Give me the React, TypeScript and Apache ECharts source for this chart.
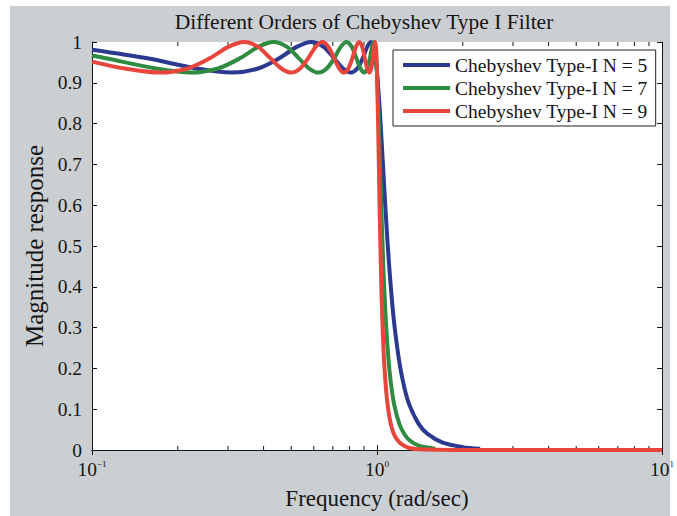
import React, { useEffect, useRef } from 'react';
import * as echarts from 'echarts';

const TITLE = 'Different Orders of Chebyshev Type I Filter';
const X_NAME = 'Frequency (rad/sec)';
const Y_NAME = 'Magnitude response';
const SERIES_NAMES = ['Chebyshev Type-I N = 5', 'Chebyshev Type-I N = 7', 'Chebyshev Type-I N = 9'];
const SERIES_COLORS = ['#2b3990', '#2e8b40', '#e8453c'];
const X_MINOR_TICKS = [0.2, 0.3, 0.4, 0.5, 0.6, 0.7, 0.8, 0.9, 2, 3, 4, 5, 6, 7, 8, 9];

// N = 5
const FREQ_N5 = [
  0.1, 0.15643, 0.23345, 0.30902, 0.38268, 0.45399, 0.5225, 0.58779, 0.64945, 0.70711,
  0.76041, 0.80902, 0.85264, 0.89101, 0.92388, 0.95106, 0.97237, 0.98769, 0.99692, 1.0,
  1.01, 1.02, 1.03, 1.04, 1.05, 1.06, 1.08, 1.1, 1.12, 1.15, 1.2, 1.25, 1.3, 1.4, 1.5, 1.7, 2.0, 2.3,
];
const MAG_N5 = [
  0.981, 0.96, 0.935, 0.925, 0.935, 0.96, 0.988, 1.0, 0.988, 0.96,
  0.935, 0.925, 0.935, 0.96, 0.988, 1.0, 0.988, 0.96, 0.935, 0.925,
  0.888, 0.845, 0.797, 0.747, 0.695, 0.644, 0.548, 0.464, 0.393, 0.308, 0.212, 0.15, 0.11, 0.064, 0.04, 0.018, 0.007, 0.003,
];

// N = 7
const FREQ_N7 = [
  0.1, 0.112, 0.16745, 0.22252, 0.27676, 0.33028, 0.38268, 0.43388, 0.4834, 0.53203,
  0.57848, 0.62349, 0.66619, 0.70711, 0.7457, 0.78183, 0.81561, 0.84672, 0.8752, 0.90097,
  0.92388, 0.94388, 0.96093, 0.97493, 0.98587, 0.99371, 0.99843, 1.0,
  1.01, 1.02, 1.03, 1.04, 1.05, 1.06, 1.08, 1.1, 1.12, 1.15, 1.2, 1.25, 1.3, 1.4, 1.5, 1.6,
];
const MAG_N7 = [
  0.967, 0.96, 0.935, 0.925, 0.935, 0.96, 0.988, 1.0, 0.988, 0.96,
  0.935, 0.925, 0.935, 0.96, 0.988, 1.0, 0.988, 0.96, 0.935, 0.925,
  0.935, 0.96, 0.988, 1.0, 0.988, 0.96, 0.935, 0.925,
  0.847, 0.75, 0.649, 0.553, 0.469, 0.397, 0.288, 0.213, 0.161, 0.11, 0.062, 0.038, 0.024, 0.011, 0.006, 0.003,
];

// N = 9
const FREQ_N9 = [
  0.1, 0.13053, 0.17365, 0.21644, 0.25882, 0.30071, 0.34202, 0.38268, 0.42262, 0.46175,
  0.5, 0.5373, 0.57358, 0.60876, 0.64279, 0.67559, 0.70711, 0.73728, 0.76604, 0.79335,
  0.81915, 0.84339, 0.86603, 0.88701, 0.90631, 0.92388, 0.93969, 0.95372, 0.96593, 0.9763,
  0.98481, 0.99144, 0.99619, 0.99905, 1.0,
  1.01, 1.02, 1.03, 1.04, 1.05, 1.06, 1.08, 1.1, 1.12, 1.15, 1.2, 1.25, 1.3, 1.4, 1.5, 2.0, 5.0, 10.0,
];
const MAG_N9 = [
  0.952, 0.935, 0.925, 0.935, 0.96, 0.988, 1.0, 0.988, 0.96, 0.935,
  0.925, 0.935, 0.96, 0.988, 1.0, 0.988, 0.96, 0.935, 0.925, 0.935,
  0.96, 0.988, 1.0, 0.988, 0.96, 0.935, 0.925, 0.935, 0.96, 0.988,
  1.0, 0.988, 0.96, 0.935, 0.925,
  0.785, 0.618, 0.471, 0.357, 0.274, 0.213, 0.135, 0.09, 0.062, 0.037, 0.018, 0.01, 0.005, 0.002, 0.001, 0, 0, 0,
];

const FREQS = [FREQ_N5, FREQ_N7, FREQ_N9];
const MAGS = [MAG_N5, MAG_N7, MAG_N9];

const FONT = '"Liberation Serif", "DejaVu Serif", "Times New Roman", serif';
const INK = '#151515';

export default function App() {
  const ref = useRef<HTMLDivElement>(null);

  useEffect(() => {
    if (!ref.current) return;
    const chart = echarts.init(ref.current, undefined, { renderer: 'svg' });

    const lineSeries = SERIES_NAMES.map((name, i) => ({
      type: 'line',
      name,
      data: FREQS[i].map((f, j) => [f, MAGS[i][j]]),
      symbol: 'none',
      showSymbol: false,
      smooth: 0.3,
      clip: false,
      z: 3 + i,
      lineStyle: { width: 4, color: SERIES_COLORS[i] },
      itemStyle: { color: SERIES_COLORS[i] },
    }));

    const minorTickSeries = {
      type: 'custom',
      name: 'minorTicks',
      xAxisIndex: 0,
      yAxisIndex: 0,
      z: 1,
      silent: true,
      data: X_MINOR_TICKS.map((v) => [v, 0]),
      renderItem: (params: any, api: any) => {
        const x = api.value(0);
        const pb = api.coord([x, 0]);
        const pt = api.coord([x, 1]);
        return {
          type: 'group',
          children: [
            { type: 'line', shape: { x1: pb[0], y1: pb[1], x2: pb[0], y2: pb[1] - 4 }, style: { stroke: INK, lineWidth: 1 } },
            { type: 'line', shape: { x1: pt[0], y1: pt[1], x2: pt[0], y2: pt[1] + 4 }, style: { stroke: INK, lineWidth: 1 } },
          ],
        };
      },
    };

    const xLabelFmt = (v: number) => {
      const e = Math.round(Math.log10(v));
      return '10{sup|' + (e < 0 ? '\u2212' + Math.abs(e) : String(e)) + '}';
    };

    chart.setOption({
      animation: false,
      backgroundColor: '#ffffff',
      graphic: [
        {
          type: 'rect',
          z: -10,
          silent: true,
          shape: { x: 10, y: 6, width: 660, height: 510 },
          style: { fill: '#cbcfd2' },
        },
        {
          type: 'text',
          x: 364,
          y: 22,
          z: 10,
          style: {
            text: TITLE,
            fontFamily: FONT,
            fontSize: 21.5,
            fill: INK,
            align: 'center',
            verticalAlign: 'middle',
          },
        },
      ],
      grid: {
        left: 92,
        right: 13,
        top: 42,
        bottom: 66,
        show: true,
        backgroundColor: '#ffffff',
        borderWidth: 0,
      },
      legend: {
        data: SERIES_NAMES,
        orient: 'vertical',
        left: 393,
        top: 50,
        icon: 'rect',
        itemWidth: 47,
        itemHeight: 4,
        itemGap: 3,
        padding: [5, 8, 5, 10],
        borderColor: '#222',
        borderWidth: 1,
        backgroundColor: '#ffffff',
        textStyle: { fontFamily: FONT, fontSize: 19.5, lineHeight: 19, color: INK },
      },
      xAxis: [
        {
          type: 'log',
          logBase: 10,
          min: 0.1,
          max: 10,
          position: 'bottom',
          name: X_NAME,
          nameLocation: 'middle',
          nameGap: 37,
          nameTextStyle: { fontFamily: FONT, fontSize: 23, color: INK },
          axisLine: { show: true, lineStyle: { color: INK, width: 1 } },
          axisTick: { show: true, inside: true, length: 5, lineStyle: { color: INK } },
          splitLine: { show: false },
          axisLabel: {
            margin: 9,
            fontFamily: FONT,
            fontSize: 19.5,
            color: INK,
            formatter: xLabelFmt,
            rich: {
              sup: { fontFamily: FONT, fontSize: 9, color: INK, verticalAlign: 'top', padding: [0, 0, 11, 0] },
            },
          },
        },
        {
          type: 'log',
          logBase: 10,
          min: 0.1,
          max: 10,
          position: 'top',
          axisLine: { show: true, lineStyle: { color: INK, width: 1 } },
          axisTick: { show: true, inside: true, length: 5, lineStyle: { color: INK } },
          axisLabel: { show: false },
          splitLine: { show: false },
        },
      ],
      yAxis: [
        {
          type: 'value',
          min: 0,
          max: 1,
          interval: 0.1,
          position: 'left',
          name: Y_NAME,
          nameLocation: 'middle',
          nameGap: 44,
          nameTextStyle: { fontFamily: FONT, fontSize: 25, color: INK },
          axisLine: { show: true, lineStyle: { color: INK, width: 1 } },
          axisTick: { show: true, inside: true, length: 5, lineStyle: { color: INK } },
          splitLine: { show: false },
          axisLabel: {
            margin: 10,
            fontFamily: FONT,
            fontSize: 19.5,
            color: INK,
            formatter: (v: number) => {
              const r = Math.round(v * 10) / 10;
              return r === 0 || r === 1 ? String(r) : r.toFixed(1);
            },
          },
        },
        {
          type: 'value',
          min: 0,
          max: 1,
          interval: 0.1,
          position: 'right',
          axisLine: { show: true, lineStyle: { color: INK, width: 1 } },
          axisTick: { show: true, inside: true, length: 5, lineStyle: { color: INK } },
          axisLabel: { show: false },
          splitLine: { show: false },
        },
      ],
      series: [minorTickSeries, ...lineSeries],
    });

    return () => chart.dispose();
  }, []);

  return (
    <div
      ref={ref}
      style={{ position: 'absolute', left: 0, top: 0, width: 677, height: 516 }}
    />
  );
}
